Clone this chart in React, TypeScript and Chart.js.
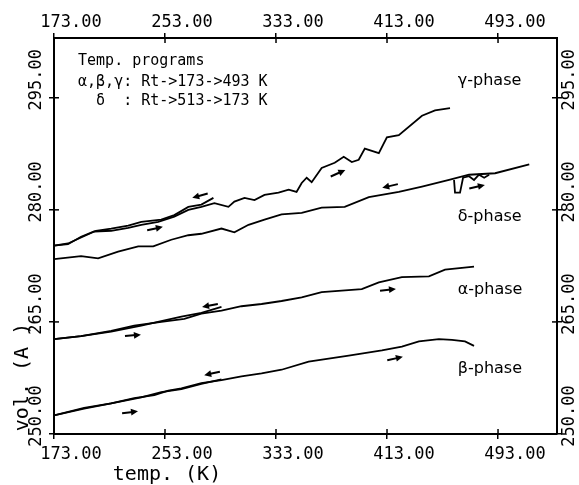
import React, { useEffect, useRef } from 'react';
import { Chart, registerables } from 'chart.js';

Chart.register(...registerables);

// ---- axes ----
const xTicks = [173, 253, 333, 413, 493];
const yTicks = [250, 265, 280, 295];
const X_MIN = 173;
const X_MAX = 535.5;
const Y_MIN = 250;
const Y_MAX = 303;

// ---- gamma phase ----
const gammaHeatT = [173, 183.1, 192.5, 201.9, 214.2, 226.5, 235.9, 248.1, 259.7, 269.8, 279.2, 288.6, 298.7, 303.0, 310.3, 317.5, 324.7, 334.8, 342.1, 347.8, 351.5, 355.1, 358.7, 365.9, 375.3, 381.8, 387.6, 392.6, 397.0, 407.1, 412.9, 421.5, 438.2, 447.6, 458.4];
const gammaHeatV = [275.2, 275.4, 276.4, 277.1, 277.2, 277.6, 278.0, 278.4, 279.1, 280.0, 280.4, 280.9, 280.4, 281.1, 281.6, 281.3, 282.0, 282.3, 282.7, 282.4, 283.6, 284.3, 283.7, 285.6, 286.3, 287.1, 286.4, 286.7, 288.2, 287.6, 289.7, 290.0, 292.6, 293.3, 293.6];
const gammaCoolT = [287.9, 279.2, 269.8, 259.7, 250.3, 235.9, 226.5, 214.2, 203.3, 192.5, 183.1, 173];
const gammaCoolV = [281.6, 280.7, 280.4, 279.3, 278.7, 278.4, 277.9, 277.5, 277.2, 276.3, 275.5, 275.2];

// ---- delta phase ----
const deltaT = [173, 192.5, 204.8, 219.2, 233.7, 244.5, 257.5, 269.8, 279.2, 293.7, 303.0, 313.2, 324.7, 337.0, 351.5, 365.9, 382.5, 399.9, 421.5, 438.2, 457.7, 472.1, 490.9, 515.5];
const deltaV = [273.4, 273.8, 273.5, 274.4, 275.1, 275.1, 276.0, 276.6, 276.8, 277.5, 277.0, 278.0, 278.7, 279.4, 279.6, 280.3, 280.4, 281.7, 282.4, 283.1, 284.0, 284.7, 284.9, 286.1];
const deltaWigT = [461.3, 462.0, 465.6, 467.8, 472.1, 475.7, 479.3, 483.0, 486.6];
const deltaWigV = [284.0, 282.3, 282.3, 284.3, 284.5, 284.0, 284.7, 284.3, 284.7];

// ---- alpha phase ----
const alphaHeatT = [173, 192.5, 214.2, 230.8, 250.3, 266.9, 279.2, 293.7, 308.1, 322.6, 337.0, 351.5, 365.9, 394.8, 407.1, 423.7, 443.2, 454.8, 475.7];
const alphaHeatV = [262.7, 263.1, 263.8, 264.5, 265.0, 265.4, 266.1, 266.5, 267.1, 267.4, 267.8, 268.3, 269.0, 269.4, 270.3, 271.0, 271.1, 272.0, 272.4];
const alphaCoolT = [293.7, 279.2, 264.8, 250.3, 235.9, 214.2, 192.5, 173];
const alphaCoolV = [267.0, 266.2, 265.7, 265.1, 264.5, 263.7, 263.1, 262.7];

// ---- beta phase ----
const betaHeatT = [173, 194.7, 214.2, 230.8, 245.3, 255.4, 264.8, 279.2, 293.7, 308.1, 322.6, 337.0, 356.5, 385.4, 409.3, 423.7, 436.0, 450.4, 459.8, 469.2, 475.7];
const betaHeatV = [252.5, 253.5, 254.1, 254.8, 255.2, 255.8, 256.1, 256.8, 257.2, 257.7, 258.1, 258.6, 259.7, 260.5, 261.2, 261.7, 262.4, 262.7, 262.6, 262.4, 261.8];
const betaCoolT = [293.7, 279.2, 264.8, 250.3, 235.9, 214.2, 194.7, 173];
const betaCoolV = [257.3, 256.7, 256.0, 255.6, 254.9, 254.1, 253.4, 252.5];

// ---- arrows (temperature, volume, direction in degrees) ----
const arrowT = [278.2, 245.8, 377.7, 415.2, 477.9, 285.4, 229.9, 413.7, 286.9, 227.8, 418.8];
const arrowV = [281.9, 277.5, 284.9, 283.2, 283.1, 267.2, 263.2, 269.3, 258.1, 252.9, 260.1];
const arrowDir = [165, -12, -24, 167, -13, 170, -5, -6, 168, -7, -13];

// ---- texts ----
const legendLines = ['Temp. programs', 'α,β,γ: Rt->173->493 K', '  δ  : Rt->513->173 K'];
const legendT = 190.3;
const legendV = [299.9, 297.1, 294.5];
const phaseLabels = ['γ-phase', 'δ-phase', 'α-phase', 'β-phase'];
const phaseT = 464;
const phaseV = [297.2, 279.1, 269.3, 258.7];
const xTitle = 'temp. (K)';
const yTitle = 'vol. (A )';

const MONO = '"DejaVu Sans Mono", monospace';
const SANS = '"DejaVu Sans", sans-serif';

const pts = (t: number[], v: number[]) => t.map((x, i) => ({ x, y: v[i] }));

const annotPlugin = {
  id: 'annot',
  afterDraw(chart: any) {
    const { ctx, chartArea: ca, scales } = chart;
    const xs = scales.x;
    const ys = scales.y;
    ctx.save();
    ctx.strokeStyle = '#000';
    ctx.fillStyle = '#000';
    ctx.lineWidth = 1.5;
    const seg = (a: number, b: number, c: number, d: number) => {
      ctx.beginPath();
      ctx.moveTo(a, b);
      ctx.lineTo(c, d);
      ctx.stroke();
    };
    // inner halves of tick marks
    xTicks.forEach((v) => {
      const px = xs.getPixelForValue(v);
      seg(px, ca.top, px, ca.top + 5);
      seg(px, ca.bottom - 5, px, ca.bottom);
    });
    yTicks.forEach((v) => {
      const py = ys.getPixelForValue(v);
      seg(ca.left, py, ca.left + 5, py);
      seg(ca.right - 5, py, ca.right, py);
    });
    // rotated y tick labels on both sides
    ctx.font = `17px ${MONO}`;
    ctx.textAlign = 'center';
    ctx.textBaseline = 'middle';
    yTicks.forEach((v) => {
      const py = ys.getPixelForValue(v) - 18;
      [ca.left - 17, ca.right + 13].forEach((px) => {
        ctx.save();
        ctx.translate(px, py);
        ctx.rotate(-Math.PI / 2);
        ctx.fillText(v.toFixed(2), 0, 0);
        ctx.restore();
      });
    });
    // axis titles
    ctx.font = `20px ${MONO}`;
    ctx.save();
    ctx.translate(ca.left - 31, ca.bottom - 57);
    ctx.rotate(-Math.PI / 2);
    ctx.fillText(yTitle, 0, 0);
    ctx.restore();
    ctx.fillText(xTitle, ca.left + 113, ca.bottom + 41);
    // legend text
    ctx.font = `15px ${MONO}`;
    ctx.textAlign = 'left';
    legendLines.forEach((s, i) => {
      ctx.fillText(s, xs.getPixelForValue(legendT), ys.getPixelForValue(legendV[i]));
    });
    // phase labels
    ctx.font = `16px ${SANS}`;
    phaseLabels.forEach((s, i) => {
      ctx.fillText(s, xs.getPixelForValue(phaseT), ys.getPixelForValue(phaseV[i]));
    });
    // arrows
    ctx.lineWidth = 2;
    arrowT.forEach((t, i) => {
      const cx = xs.getPixelForValue(t);
      const cy = ys.getPixelForValue(arrowV[i]);
      const a = (arrowDir[i] * Math.PI) / 180;
      const c = Math.cos(a);
      const s = Math.sin(a);
      const L = 8;
      const hx = cx + L * c;
      const hy = cy + L * s;
      seg(cx - L * c, cy - L * s, hx - 5 * c, hy - 5 * s);
      ctx.beginPath();
      ctx.moveTo(hx, hy);
      ctx.lineTo(hx - 7 * c - 3.4 * s, hy - 7 * s + 3.4 * c);
      ctx.lineTo(hx - 7 * c + 3.4 * s, hy - 7 * s - 3.4 * c);
      ctx.closePath();
      ctx.fill();
    });
    ctx.restore();
  },
};

export default function App() {
  const ref = useRef<HTMLCanvasElement | null>(null);
  useEffect(() => {
    if (!ref.current) return;
    const line = (t: number[], v: number[]) => ({
      data: pts(t, v),
      showLine: true,
      borderColor: '#000',
      borderWidth: 1.8,
      pointRadius: 0,
      fill: false,
      tension: 0,
    });
    const xAxisCommon = (pos: string, h: number, pad: number) => ({
      type: 'linear',
      position: pos,
      min: X_MIN,
      max: X_MAX,
      afterBuildTicks: (s: any) => {
        s.ticks = xTicks.map((v) => ({ value: v }));
      },
      afterFit: (s: any) => {
        s.height = h;
      },
      ticks: {
        color: '#000',
        font: { family: MONO, size: 17 },
        padding: pad,
        labelOffset: 17,
        maxRotation: 0,
        minRotation: 0,
        autoSkip: false,
        callback: (v: any) => Number(v).toFixed(2),
      },
      grid: { drawOnChartArea: false, drawTicks: true, tickLength: 5, color: '#000', lineWidth: 1.5 },
      border: { display: true, color: '#000', width: 2 },
    });
    const yAxisCommon = (pos: string, w: number) => ({
      type: 'linear',
      position: pos,
      min: Y_MIN,
      max: Y_MAX,
      afterBuildTicks: (s: any) => {
        s.ticks = yTicks.map((v) => ({ value: v }));
      },
      afterFit: (s: any) => {
        s.width = w;
      },
      ticks: { display: false },
      grid: { drawOnChartArea: false, drawTicks: true, tickLength: 5, color: '#000', lineWidth: 1.5 },
      border: { display: true, color: '#000', width: 2 },
    });
    const chart = new Chart(ref.current, {
      type: 'scatter',
      data: {
        datasets: [
          line(gammaHeatT, gammaHeatV),
          line(gammaCoolT, gammaCoolV),
          line(deltaT, deltaV),
          line(deltaWigT, deltaWigV),
          line(alphaHeatT, alphaHeatV),
          line(alphaCoolT, alphaCoolV),
          line(betaHeatT, betaHeatV),
          line(betaCoolT, betaCoolV),
        ],
      },
      options: {
        responsive: false,
        maintainAspectRatio: false,
        animation: false,
        devicePixelRatio: 1,
        layout: { padding: 0 },
        plugins: { legend: { display: false }, tooltip: { enabled: false } },
        scales: {
          x: xAxisCommon('bottom', 51, 5),
          x2: xAxisCommon('top', 38, 0),
          y: yAxisCommon('left', 54),
          y2: yAxisCommon('right', 22),
        } as any,
      },
      plugins: [annotPlugin],
    } as any);
    return () => chart.destroy();
  }, []);
  return (
    <div style={{ position: 'absolute', left: 0, top: 0, width: 579, height: 485, background: '#fff' }}>
      <canvas ref={ref} width={579} height={485} style={{ display: 'block' }} />
    </div>
  );
}
